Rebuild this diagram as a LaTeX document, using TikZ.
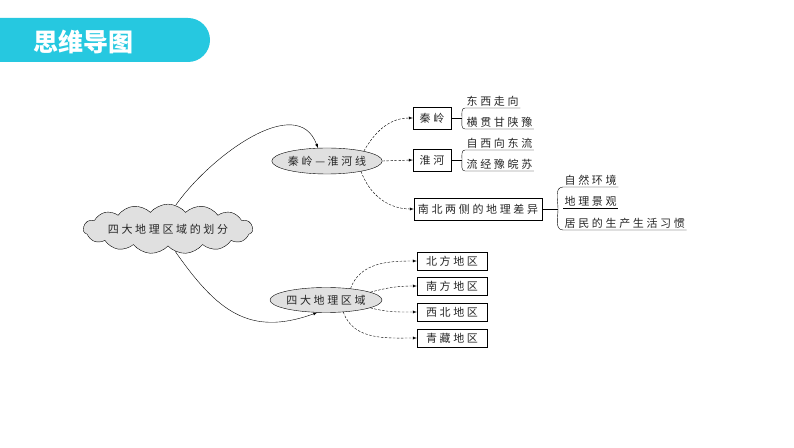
\documentclass[tikz,border=0pt]{standalone}
\usepackage{fontspec}
\setmainfont{Noto Sans CJK SC}[LetterSpace=24]
\newfontfamily\titlefont{Noto Sans CJK SC}
\usetikzlibrary{shapes.geometric, shapes.symbols}
\definecolor{bannercyan}{RGB}{38,200,224}
\definecolor{shade}{gray}{0.88}

\begin{document}
\begin{tikzpicture}[
    x=1pt, y=1pt,
    every node/.style={font=\fontsize{11}{13}\selectfont, text=black!85},
    cloudnode/.style={cloud, cloud puffs=15, cloud puff arc=100, aspect=5, draw, fill=shade, minimum width=150pt, minimum height=28pt, inner sep=0pt},
    topic/.style={ellipse, draw, fill=shade, inner sep=0pt},
    box/.style={rectangle, draw, inner sep=0pt, minimum height=22pt},
    leaf/.style={anchor=south west, inner sep=1.5pt},
    arrow/.style={-latex, thin},
    dasharrow/.style={-latex, thin, dash pattern=on 2.5pt off 1.5pt},
    plain/.style={thin}
]
    \useasboundingbox (0,0) rectangle (794,447);
    % banner
    \fill[bannercyan] (0,385) -- (188,385) arc[start angle=-90, end angle=90, radius=22] -- (0,429) -- cycle;
    \node[font=\titlefont\bfseries\fontsize{25}{27}\selectfont, text=white] (title) at (83,405) {思维导图};

    \node[cloudnode] (root) at (168,218) {四大地理区域的划分};
    \node[topic, minimum width=100pt, minimum height=26pt] (qh) at (327,286) {秦岭—淮河线};
    \node[topic, minimum width=93pt, minimum height=25pt] (sd) at (326,147) {四大地理区域};

    \node[box, minimum width=38pt] (ql) at (432,329) {秦岭};
    \node[box, minimum width=38pt] (hh) at (432,287) {淮河};
    \node[box, minimum width=128pt] (cy) at (478,238) {南北两侧的地理差异};

    \node[box, minimum width=70pt, minimum height=18pt] (bf) at (452,186) {北方地区};
    \node[box, minimum width=70pt, minimum height=18pt] (nf) at (452,161) {南方地区};
    \node[box, minimum width=70pt, minimum height=18pt] (xb) at (452,135) {西北地区};
    \node[box, minimum width=70pt, minimum height=18pt] (qz) at (452,109) {青藏地区};

    \node[leaf] (ql1) at (465,339) {东西走向};
    \node[leaf] (ql2) at (465,318) {横贯甘陕豫};
    \node[leaf] (hh1) at (465,297) {自西向东流};
    \node[leaf] (hh2) at (465,276) {流经豫皖苏};
    \node[leaf] (cy1) at (563,260) {自然环境};
    \node[leaf] (cy2) at (563,239) {地理景观};
    \node[leaf] (cy3) at (563,217) {居民的生产生活习惯};

    \coordinate (qlb) at (462,329);
    \coordinate (hhb) at (462,287);
    \coordinate (cyb) at (558,238);

    % main branches
    \draw[arrow] (root.72) to[out=55, in=110] (qh.125);
    \draw[arrow] (root.-72) to[out=-55, in=-160, looseness=1.2] (sd.-125);

    \draw[dasharrow] (qh.15) to[out=60, in=180] (ql.west);
    \draw[dasharrow] (qh.east) -- (hh.west);
    \draw[dasharrow] (qh.-17) to[out=-70, in=180] (cy.west);

    \draw[dasharrow] (sd.25) to[out=70, in=180] (bf.west);
    \draw[dasharrow] (sd.10) to[out=15, in=180] (nf.west);
    \draw[dasharrow] (sd.-10) to[out=-15, in=180] (xb.west);
    \draw[dasharrow] (sd.-35) to[out=-70, in=180] (qz.west);

    % brackets
    \draw[plain] (ql.east) -- (qlb);
    \draw[plain] (ql1.south east) -- (ql1.south west) to[out=180, in=90] (qlb) to[out=-90, in=180] (ql2.south west) -- (ql2.south east);
    \draw[plain] (hh.east) -- (hhb);
    \draw[plain] (hh1.south east) -- (hh1.south west) to[out=180, in=90] (hhb) to[out=-90, in=180] (hh2.south west) -- (hh2.south east);
    \draw[plain] (cy.east) -- (cyb);
    \draw[plain] (cy1.south east) -- (cy1.south west) to[out=180, in=90] (cyb) to[out=-90, in=180] (cy3.south west) -- (cy3.south east);
    \draw[plain] (cy2.south west) -- (cy2.south east);
\end{tikzpicture}
\end{document}
